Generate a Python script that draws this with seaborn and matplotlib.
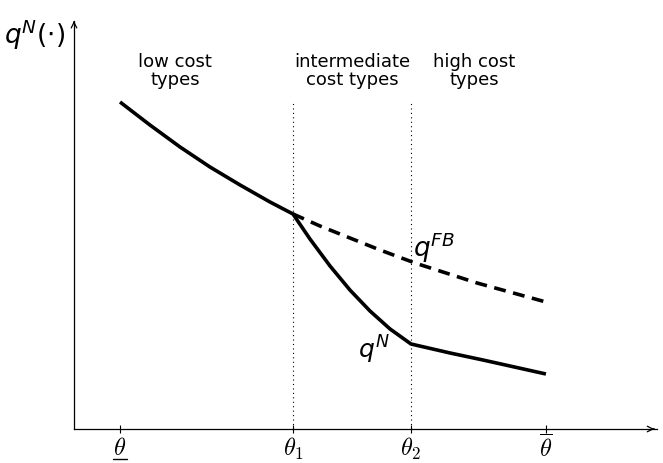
import numpy as np
import pandas as pd
import matplotlib
matplotlib.use("Agg")
import matplotlib.pyplot as plt
import matplotlib.transforms as mtransforms
import seaborn as sns

# type parameters on the horizontal axis
theta_low, theta_1, theta_2, theta_bar = 0.0, 1.0, 1.682, 2.462
tick_pos = [theta_low, theta_1, theta_2, theta_bar]
# underline for theta_low is drawn by hand (mathtext has no \underline)
tick_labels = [r"$\theta$", r"$\theta_1$", r"$\theta_2$", r"$\overline{\theta}$"]

# q^N (three pieces)
low_x = [0.0, 0.173, 0.347, 0.520, 0.694, 0.867, 1.0]
low_y = [3.27, 3.04, 2.82, 2.62, 2.44, 2.27, 2.15]
mid_x = [1.0, 1.098, 1.214, 1.329, 1.445, 1.561, 1.682]
mid_y = [2.15, 1.90, 1.63, 1.39, 1.18, 1.00, 0.85]
high_x = [1.682, 1.908, 2.098, 2.462]
high_y = [0.85, 0.76, 0.69, 0.55]

# first-best q^FB
fb_x = [1.0, 1.156, 1.329, 1.503, 1.705, 2.064, 2.462]
fb_y = [2.15, 2.03, 1.91, 1.79, 1.66, 1.46, 1.27]

regions = ["low cost\ntypes", "intermediate\ncost types", "high cost\ntypes"]
region_x = [0.318, 1.341, 2.046]

sns.set_style("white")
plt.rcParams["font.family"] = ["DejaVu Sans"]
plt.rcParams["text.color"] = "black"

qn = pd.DataFrame({"x": low_x + mid_x[1:] + high_x[1:],
                   "y": low_y + mid_y[1:] + high_y[1:]})
qfb = pd.DataFrame({"x": fb_x, "y": fb_y})

fig = plt.figure(figsize=(6.63, 4.64), dpi=100)
ax = fig.add_axes([74 / 663, 34 / 464, 583 / 663, 408 / 464])

sns.lineplot(data=qn, x="x", y="y", ax=ax, color="black", lw=2.6,
             sort=False, estimator=None, solid_joinstyle="round",
             solid_capstyle="butt")
sns.lineplot(data=qfb, x="x", y="y", ax=ax, color="black", lw=2.6,
             sort=False, estimator=None, linestyle=(0, (3.3, 2.1)))

for t in [theta_1, theta_2]:
    ax.plot([t, t], [0, 3.27], color="black", lw=0.8, linestyle=(0, (1, 3)))

ax.set_xlim(-0.266, 3.104)
ax.set_ylim(0, 4.08)

for s in ["top", "right"]:
    ax.spines[s].set_visible(False)
for s in ["left", "bottom"]:
    ax.spines[s].set_color("black")
    ax.spines[s].set_linewidth(0.9)

ax.annotate("", xy=(1.0, 0), xycoords="axes fraction", xytext=(0.99, 0),
            arrowprops=dict(arrowstyle="->", lw=0.9, color="black"))
ax.annotate("", xy=(0, 1.0), xycoords="axes fraction", xytext=(0, 0.99),
            arrowprops=dict(arrowstyle="->", lw=0.9, color="black"))

ax.set_xticks(tick_pos)
ax.set_xticklabels(tick_labels, fontsize=17.5, math_fontfamily="cm",
                   color="black")
ax.set_yticks([])
ax.tick_params(axis="x", bottom=True, direction="inout", length=6,
               width=0.8, pad=1, color="black")
ax.set_xlabel("")
ax.set_ylabel("")

# underline under the lowest type
trans = mtransforms.blended_transform_factory(ax.transData, ax.transAxes)
ax.plot([theta_low - 0.042, theta_low + 0.042], [-0.074, -0.074],
        color="black", lw=1.0, transform=trans, clip_on=False)

for lab, xx in zip(regions, region_x):
    ax.text(xx, 3.59, lab, ha="center", va="center", fontsize=13,
            linespacing=1.05)

ax.text(1.694, 1.82, r"$q^{FB}$", fontsize=19, ha="left", va="center",
        math_fontfamily="dejavusans")
ax.text(1.376, 0.80, r"$q^{N}$", fontsize=18, ha="left", va="center",
        math_fontfamily="dejavusans")
fig.text(0.006, 0.925, r"$q^{N}(\cdot)$", fontsize=19, ha="left", va="center",
         math_fontfamily="dejavusans")

fig.savefig("out.png", dpi=100)
